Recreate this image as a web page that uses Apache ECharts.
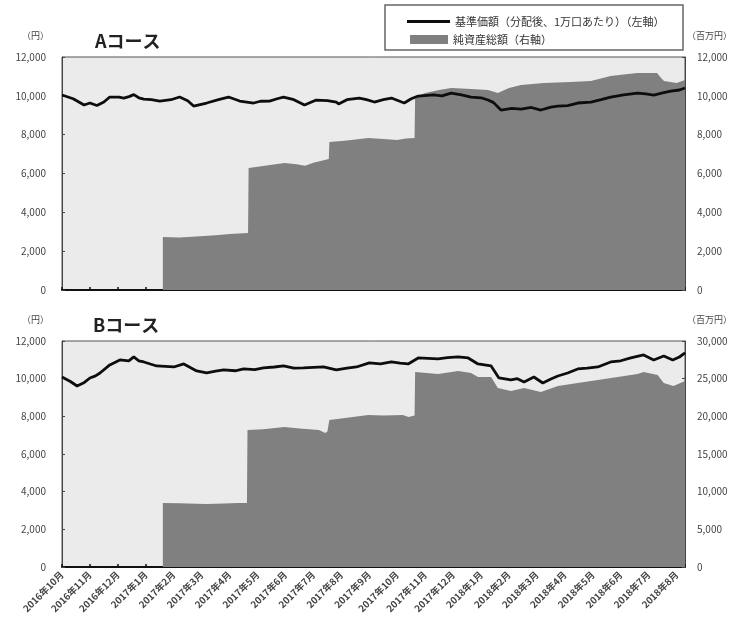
<!DOCTYPE html>
<html>
<head>
<meta charset="utf-8">
<script src="https://cdn.jsdelivr.net/npm/echarts@6/dist/echarts.min.js"></script>
<style>
html,body{margin:0;padding:0;background:#fff;}
#c{width:740px;height:632px;}
</style>
</head>
<body>
<div id="c"></div>
<script>
// Month ticks: index 0 = 2016年10月 ... 22 = 2018年8月
const monthLabels = ['2016年10月','2016年11月','2016年12月','2017年1月','2017年2月','2017年3月','2017年4月','2017年5月','2017年6月','2017年7月','2017年8月','2017年9月','2017年10月','2017年11月','2017年12月','2018年1月','2018年2月','2018年3月','2018年4月','2018年5月','2018年6月','2018年7月','2018年8月'];

const navName = '基準価額（分配後、1万口あたり）（左軸）';
const assetName = '純資産総額（右軸）';

// A course: NAV [month position, yen]
const navA = [[0.0,10041],[0.4,9850],[0.79,9526],[1.0,9630],[1.25,9500],[1.5,9681],[1.71,9938],[2.04,9938],[2.21,9887],[2.4,9960],[2.57,10060],[2.75,9900],[2.93,9835],[3.2,9800],[3.5,9732],[3.9,9800],[4.21,9938],[4.5,9750],[4.71,9475],[5.18,9630],[5.6,9800],[5.96,9938],[6.36,9732],[6.86,9630],[7.1,9720],[7.43,9732],[7.7,9850],[7.93,9938],[8.3,9800],[8.68,9526],[9.1,9784],[9.5,9750],[9.82,9681],[9.9,9578],[10.2,9800],[10.64,9887],[10.9,9800],[11.18,9681],[11.5,9800],[11.79,9887],[12.25,9630],[12.5,9850],[12.75,9990],[13.3,10050],[13.6,10000],[13.93,10144],[14.3,10050],[14.64,9938],[15.0,9900],[15.25,9784],[15.45,9650],[15.71,9269],[16.1,9350],[16.43,9320],[16.8,9400],[17.14,9269],[17.5,9420],[17.75,9475],[18.1,9500],[18.46,9630],[18.93,9681],[19.3,9800],[19.64,9938],[20.1,10050],[20.6,10144],[20.9,10100],[21.18,10041],[21.5,10150],[21.79,10247],[22.1,10300],[22.3,10402]];
// A course: net assets [month position, million yen]
const assetA = [[3.61,2730],[4.2,2700],[4.8,2760],[5.5,2820],[6.0,2880],[6.66,2935],[6.68,6282],[7.2,6380],[7.96,6540],[8.4,6480],[8.7,6400],[9.0,6560],[9.55,6745],[9.57,7621],[10.2,7700],[10.96,7830],[11.5,7780],[12.0,7720],[12.3,7800],[12.62,7830],[12.64,9938],[13.0,10150],[13.5,10300],[13.93,10402],[14.3,10380],[14.64,10350],[15.25,10300],[15.6,10144],[16.0,10400],[16.43,10556],[17.25,10659],[18.2,10711],[18.93,10762],[19.64,11020],[20.1,11100],[20.6,11174],[21.3,11174],[21.45,10900],[21.55,10762],[22.0,10659],[22.3,10813]];

// B course: NAV
const navB = [[0.0,10090],[0.3,9850],[0.54,9612],[0.8,9800],[1.0,10037],[1.2,10150],[1.36,10303],[1.71,10728],[2.07,10993],[2.39,10940],[2.57,11153],[2.75,10950],[2.93,10887],[3.39,10674],[4.0,10621],[4.36,10781],[4.82,10409],[5.18,10303],[5.5,10400],[5.79,10462],[6.2,10420],[6.5,10515],[6.9,10480],[7.21,10568],[7.6,10620],[7.93,10674],[8.3,10560],[8.64,10568],[9.0,10600],[9.36,10621],[9.82,10462],[10.2,10560],[10.54,10621],[11.0,10834],[11.4,10780],[11.79,10887],[12.1,10820],[12.39,10781],[12.75,11099],[13.1,11080],[13.46,11046],[13.8,11120],[14.18,11153],[14.54,11099],[14.89,10781],[15.36,10674],[15.64,10037],[16.07,9931],[16.3,10000],[16.54,9825],[16.89,10090],[17.21,9771],[17.5,9980],[17.75,10143],[18.1,10300],[18.46,10515],[18.8,10560],[19.18,10621],[19.64,10887],[20.0,10950],[20.36,11099],[20.82,11259],[21.18,10993],[21.54,11206],[21.86,10993],[22.1,11150],[22.3,11365]];
// B course: net assets
const assetB = [[3.61,8496],[4.2,8450],[4.8,8400],[5.2,8350],[5.8,8420],[6.3,8480],[6.62,8500],[6.64,18187],[7.2,18300],[7.96,18585],[8.5,18400],[9.2,18200],[9.42,17788],[9.5,18000],[9.57,19514],[10.2,19800],[10.96,20178],[11.5,20100],[12.2,20178],[12.4,19912],[12.62,20100],[12.64,25886],[13.46,25620],[14.18,26018],[14.64,25753],[14.89,25222],[15.36,25222],[15.6,23762],[16.07,23364],[16.54,23762],[17.14,23231],[17.75,24028],[18.46,24426],[19.18,24824],[19.89,25222],[20.6,25620],[20.82,25886],[21.32,25488],[21.54,24426],[21.89,24028],[22.3,24700]];

const FONT = '"Noto Sans CJK JP", "Noto Sans", sans-serif';
const fmt = v => Number(v).toLocaleString('en-US');

function xAxis(gridIndex, showLabel) {
  return {
    type: 'value', gridIndex, min: 0, max: 22.3, interval: 1,
    axisLine: {show: true, lineStyle: {color: '#111', width: 2}},
    axisTick: {show: true, inside: true, length: 3, lineStyle: {color: '#111', width: 1.5}},
    splitLine: {show: false},
    axisLabel: {
      show: showLabel, rotate: 45, margin: 6, fontSize: 9.5, fontWeight: 'bold',
      color: '#444', fontFamily: FONT,
      formatter: v => (Number.isInteger(v) && monthLabels[v]) ? monthLabels[v] : ''
    }
  };
}
function yAxis(gridIndex, pos, max, interval) {
  return {
    type: 'value', gridIndex, position: pos, min: 0, max, interval,
    axisLine: {show: true, lineStyle: {color: '#444', width: 1}},
    axisTick: {show: true, inside: true, length: 3, lineStyle: {color: '#444'}},
    splitLine: {show: false},
    axisLabel: {fontSize: 10, color: '#444', fontFamily: FONT, margin: pos === 'left' ? 16 : 12, formatter: fmt}
  };
}

const chart = echarts.init(document.getElementById('c'));
chart.setOption({
  animation: false,
  backgroundColor: '#fff',
  textStyle: {fontFamily: FONT},
  grid: [
    {left: 62, right: 55, top: 57, height: 233, show: true, backgroundColor: '#ebebeb', borderColor: '#555', borderWidth: 1},
    {left: 62, right: 55, top: 341, height: 226, show: true, backgroundColor: '#ebebeb', borderColor: '#555', borderWidth: 1}
  ],
  xAxis: [xAxis(0, false), xAxis(1, true)],
  yAxis: [
    yAxis(0, 'left', 12000, 2000), yAxis(0, 'right', 12000, 2000),
    yAxis(1, 'left', 12000, 2000), yAxis(1, 'right', 30000, 5000)
  ],
  legend: [
    {data: [navName], left: 402, top: 11, icon: 'rect', itemWidth: 43, itemHeight: 3, itemGap: 4,
     textStyle: {fontSize: 11, color: '#333', fontFamily: FONT}, selectedMode: false},
    {data: [assetName], left: 405, top: 29, icon: 'rect', itemWidth: 38, itemHeight: 9, itemGap: 4,
     textStyle: {fontSize: 11, color: '#333', fontFamily: FONT}, selectedMode: false}
  ],
  graphic: [
    {type: 'rect', shape: {x: 385, y: 5, width: 298, height: 45}, style: {fill: 'none', stroke: '#666', lineWidth: 1.5}, z: 100},
    {type: 'text', left: 95, top: 32, style: {text: 'Aコース', font: 'bold 18px ' + FONT, fill: '#222'}},
    {type: 'text', left: 93, top: 316, style: {text: 'Bコース', font: 'bold 18px ' + FONT, fill: '#222'}},
    {type: 'text', left: 22, top: 31, style: {text: '（円）', font: '9px ' + FONT, fill: '#444'}},
    {type: 'text', left: 22, top: 315, style: {text: '（円）', font: '9px ' + FONT, fill: '#444'}},
    {type: 'text', left: 687, top: 31, style: {text: '（百万円）', font: '9px ' + FONT, fill: '#444'}},
    {type: 'text', left: 687, top: 315, style: {text: '（百万円）', font: '9px ' + FONT, fill: '#444'}}
  ],
  series: [
    {name: assetName, type: 'line', xAxisIndex: 0, yAxisIndex: 1, data: assetA, showSymbol: false,
     lineStyle: {width: 0, color: '#808080'}, itemStyle: {color: '#808080'}, areaStyle: {color: '#808080', opacity: 1}, z: 2},
    {name: navName, type: 'line', xAxisIndex: 0, yAxisIndex: 0, data: navA, showSymbol: false,
     lineStyle: {width: 2.8, color: '#0d0d0d'}, itemStyle: {color: '#0d0d0d'}, z: 3},
    {name: assetName, type: 'line', xAxisIndex: 1, yAxisIndex: 3, data: assetB, showSymbol: false,
     lineStyle: {width: 0, color: '#808080'}, itemStyle: {color: '#808080'}, areaStyle: {color: '#808080', opacity: 1}, z: 2},
    {name: navName, type: 'line', xAxisIndex: 1, yAxisIndex: 2, data: navB, showSymbol: false,
     lineStyle: {width: 2.8, color: '#0d0d0d'}, itemStyle: {color: '#0d0d0d'}, z: 3}
  ]
});
</script>
</body>
</html>
